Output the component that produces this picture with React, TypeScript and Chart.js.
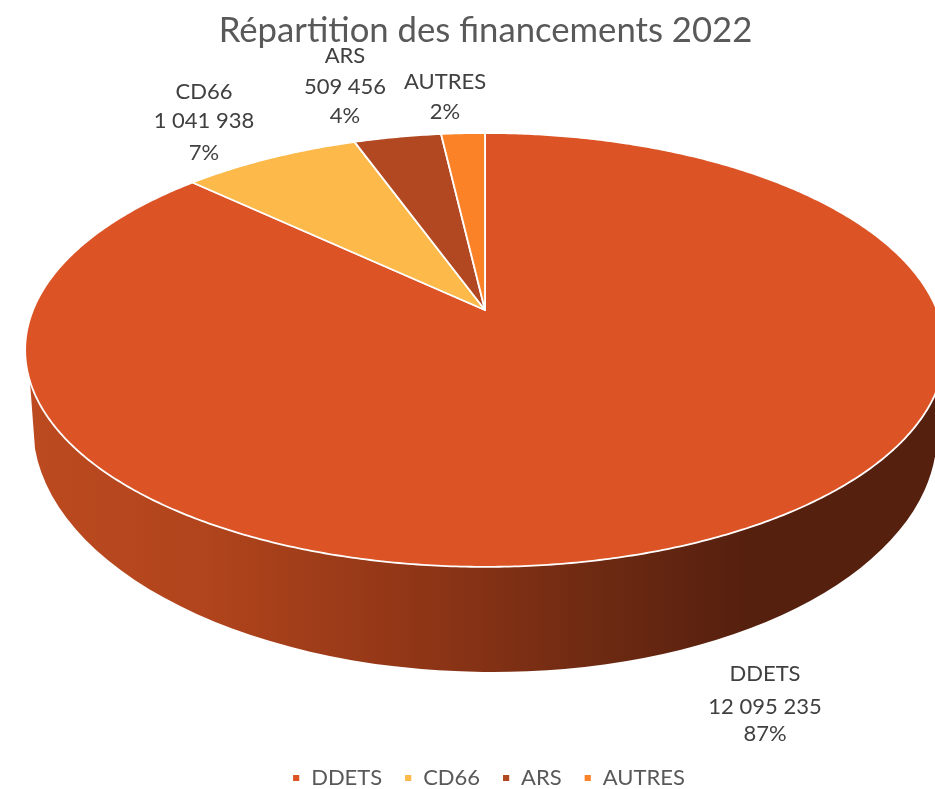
import React, { useEffect, useRef } from "react";
import { Chart, registerables } from "chart.js";

Chart.register(...registerables);

const categories = ["DDETS", "CD66", "ARS", "AUTRES"];
const amounts = [12095235, 1041938, 509456, 255000];
const showAmount = [true, true, true, false];
const sliceColors = ["#DC5426", "#FDB94A", "#B14821", "#FC8228"];
const TITLE = "Répartition des financements 2022";

// Label line centres per category: [x, ...line y]
const labelX = [765, 204, 345, 445];
const labelLineY = [
  [674, 707, 734],
  [92, 121, 153],
  [56, 87, 116],
  [82, 112],
];

const FONT = "Lato";
const APEX = { x: 485, y: 310 };
const PROJ = { a: 452, b: 209.6, k: 0.184 };
const FLOOR = { x: 485, y: 430, rx: 452, ry: 242, rot: 0.012 };
const RIM_Y = 380;

function project(t: number) {
  const c = Math.cos(t);
  const s = Math.sin(t);
  const d = 1 - PROJ.k * s;
  return { x: APEX.x + (PROJ.a * c) / d, y: APEX.y + (PROJ.b * s) / d };
}

function fmt(n: number) {
  return String(n).replace(/\B(?=(\d{3})+(?!\d))/g, "\u00A0");
}

const pie3d = {
  id: "pie3d",
  afterLayout(chart: any) {
    const l = chart.legend;
    if (l) {
      l.top += 10;
      l.bottom += 10;
      l.left += 3;
      l.right += 3;
    }
  },
  beforeDatasetsDraw(chart: any) {
    const ctx: CanvasRenderingContext2D = chart.ctx;
    const arcs = chart.getDatasetMeta(0).data;
    const step = Math.PI / 360;

    // side wall
    let tStart = 0;
    while (project(tStart).y < RIM_Y && tStart < Math.PI / 2) tStart += step / 4;
    let tEnd = Math.PI;
    while (project(tEnd).y < RIM_Y && tEnd > Math.PI / 2) tEnd -= step / 4;

    const g = ctx.createLinearGradient(25, 0, 945, 0);
    g.addColorStop(0, "#BD4A20");
    g.addColorStop(0.2, "#B0441C");
    g.addColorStop(0.45, "#8C3416");
    g.addColorStop(0.62, "#6E2A12");
    g.addColorStop(0.78, "#56200F");
    g.addColorStop(1, "#56200F");

    ctx.save();
    ctx.beginPath();
    for (let t = tStart; t <= tEnd; t += step) {
      const p = project(t);
      if (t === tStart) ctx.moveTo(p.x, p.y);
      else ctx.lineTo(p.x, p.y);
    }
    ctx.ellipse(FLOOR.x, FLOOR.y, FLOOR.rx, FLOOR.ry, FLOOR.rot, Math.PI - 0.1, 0.05, true);
    ctx.closePath();
    ctx.fillStyle = g;
    ctx.fill();

    // top face, one wedge per library arc element
    arcs.forEach((arc: any, i: number) => {
      const { startAngle, endAngle } = arc.getProps(["startAngle", "endAngle"], true);
      ctx.beginPath();
      ctx.moveTo(APEX.x, APEX.y);
      for (let t = startAngle; t < endAngle; t += step) {
        const p = project(t);
        ctx.lineTo(p.x, p.y);
      }
      const e = project(endAngle);
      ctx.lineTo(e.x, e.y);
      ctx.closePath();
      ctx.fillStyle = sliceColors[i];
      ctx.fill();
      ctx.strokeStyle = "#FFFFFF";
      ctx.lineWidth = 1.8;
      ctx.lineJoin = "round";
      ctx.stroke();
    });

    // data labels
    const total = amounts.reduce((a, b) => a + b, 0);
    ctx.fillStyle = "#404040";
    ctx.font = `22px ${FONT}`;
    ctx.textAlign = "center";
    ctx.textBaseline = "middle";
    categories.forEach((name, i) => {
      const lines = [name];
      if (showAmount[i]) lines.push(fmt(amounts[i]));
      lines.push(`${Math.round((amounts[i] / total) * 100)}%`);
      lines.forEach((s, j) => ctx.fillText(s, labelX[i], labelLineY[i][j]));
    });
    ctx.restore();
    return false;
  },
};

export default function App() {
  const ref = useRef<HTMLCanvasElement>(null);
  useEffect(() => {
    const chart = new Chart(ref.current!, {
      type: "pie",
      data: {
        labels: categories,
        datasets: [{ data: amounts, backgroundColor: sliceColors, borderColor: "#FFFFFF", borderWidth: 1.8 }],
      },
      options: {
        responsive: false,
        animation: false,
        layout: { padding: { left: 36 } },
        plugins: {
          title: {
            display: true,
            text: TITLE,
            color: "#595959",
            font: { family: FONT, size: 34.7, weight: "normal" },
            padding: { top: 10, bottom: 4 },
          },
          legend: {
            display: true,
            position: "bottom",
            labels: {
              color: "#595959",
              font: { family: FONT, size: 22 },
              boxWidth: 8,
              boxHeight: 8,
              padding: 22,
            },
          },
          tooltip: { enabled: false },
        },
      },
      plugins: [pie3d],
    } as any);
    return () => chart.destroy();
  }, []);
  return (
    <div style={{ position: "fixed", left: 0, top: 0, width: 935, height: 789, background: "#fff", overflow: "hidden" }}>
      <canvas ref={ref} width={935} height={789} style={{ display: "block" }} />
    </div>
  );
}
